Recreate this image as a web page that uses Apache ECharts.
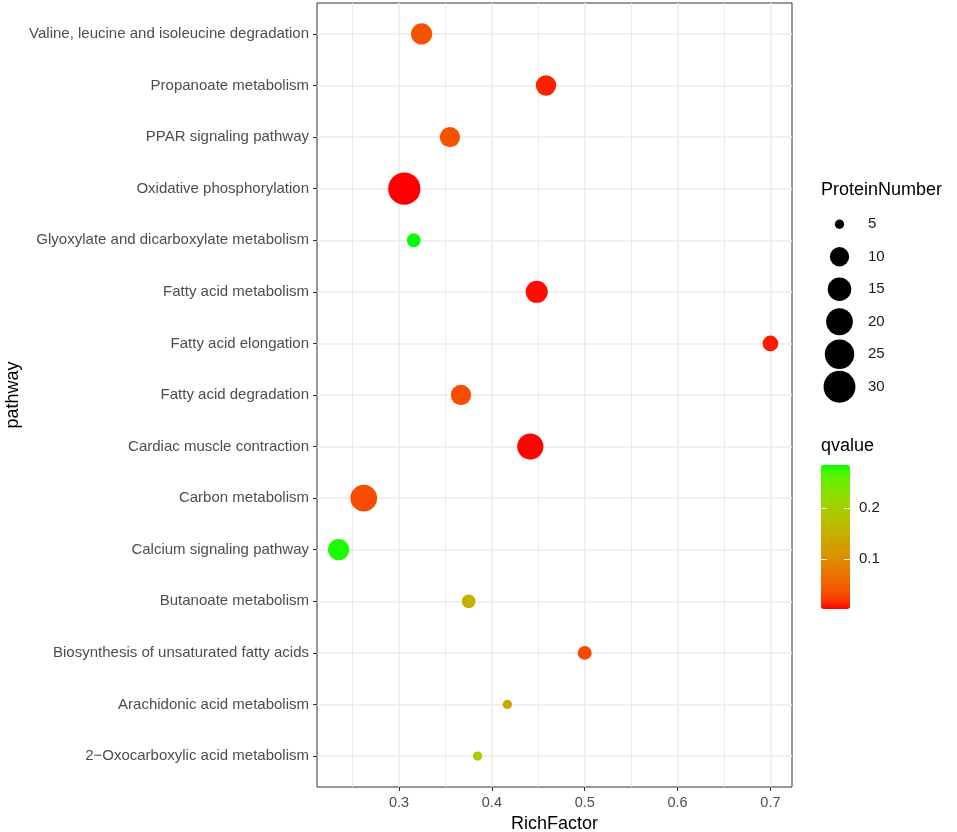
<!DOCTYPE html>
<html>
<head>
<meta charset="utf-8">
<script src="https://cdn.jsdelivr.net/npm/echarts@6/dist/echarts.min.js"></script>
<style>
    html, body { margin: 0; padding: 0; background: #fff; }
    #chart { width: 957px; height: 832px; }
</style>
</head>
<body>
<div id="chart"></div>
<script>
// 通路名称，按从下到上的顺序（和 ggplot 的因子顺序一致）
var pathways = [
    '2\u2212Oxocarboxylic acid metabolism',
    'Arachidonic acid metabolism',
    'Biosynthesis of unsaturated fatty acids',
    'Butanoate metabolism',
    'Calcium signaling pathway',
    'Carbon metabolism',
    'Cardiac muscle contraction',
    'Fatty acid degradation',
    'Fatty acid elongation',
    'Fatty acid metabolism',
    'Glyoxylate and dicarboxylate metabolism',
    'Oxidative phosphorylation',
    'PPAR signaling pathway',
    'Propanoate metabolism',
    'Valine, leucine and isoleucine degradation'
];
var richFactor = [0.3846, 0.4167, 0.5, 0.375, 0.2349, 0.262, 0.4414, 0.3667, 0.70, 0.4483, 0.3158, 0.3057, 0.3548, 0.4583, 0.3243];
var proteinNumber = [5, 5, 6, 6, 12, 20, 19, 11, 7, 13, 6, 31, 11, 11, 12];
var qvalue = [0.20, 0.14, 0.03, 0.15, 0.28, 0.033, 0.004, 0.033, 0.01, 0.006, 0.285, 0.0025, 0.038, 0.012, 0.038];

// 刻度
var xTicks = [0.3, 0.4, 0.5, 0.6, 0.7];
var xMinorTicks = [0.25, 0.35, 0.45, 0.55, 0.65];
var sizeLegend = [5, 10, 15, 20, 25, 30];
var qTicks = [0.1, 0.2];

var FONT = '"Liberation Sans", Arial, sans-serif';

// 范围：连续轴两端各扩 5%，离散轴两端各扩 0.6 个单位
var rfMin = Math.min.apply(null, richFactor);
var rfMax = Math.max.apply(null, richFactor);
var xMin = rfMin - 0.05 * (rfMax - rfMin);
var xMax = rfMax + 0.05 * (rfMax - rfMin);
var qMin = Math.min.apply(null, qvalue);
var qMax = Math.max.apply(null, qvalue);
var nMin = Math.min.apply(null, proteinNumber);
var nMax = Math.max.apply(null, proteinNumber);

// 面积比例的点大小（像素直径）
function sizeOf(n) {
    var t = Math.max(0, (n - nMin) / (nMax - nMin));
    return 9.3 + 23 * Math.sqrt(t);
}

// 红 -> 绿 在 Lab 空间插值，生成色带
function toLin(c) { c = c / 255; return c <= 0.04045 ? c / 12.92 : Math.pow((c + 0.055) / 1.055, 2.4); }
function fromLin(c) { c = c <= 0.0031308 ? 12.92 * c : 1.055 * Math.pow(c, 1 / 2.4) - 0.055; return Math.round(Math.min(1, Math.max(0, c)) * 255); }
function rgbToLab(rgb) {
    var r = toLin(rgb[0]), g = toLin(rgb[1]), b = toLin(rgb[2]);
    var x = (0.4124 * r + 0.3576 * g + 0.1805 * b) / 0.95047;
    var y = (0.2126 * r + 0.7152 * g + 0.0722 * b);
    var z = (0.0193 * r + 0.1192 * g + 0.9505 * b) / 1.08883;
    var f = function (t) { return t > 0.008856 ? Math.cbrt(t) : 7.787 * t + 16 / 116; };
    var fx = f(x), fy = f(y), fz = f(z);
    return [116 * fy - 16, 500 * (fx - fy), 200 * (fy - fz)];
}
function labToHex(lab) {
    var fy = (lab[0] + 16) / 116, fx = fy + lab[1] / 500, fz = fy - lab[2] / 200;
    var inv = function (t) { return t > 0.206893 ? t * t * t : (t - 16 / 116) / 7.787; };
    var x = inv(fx) * 0.95047, y = inv(fy), z = inv(fz) * 1.08883;
    var r = 3.2406 * x - 1.5372 * y - 0.4986 * z;
    var g = -0.9689 * x + 1.8758 * y + 0.0415 * z;
    var b = 0.0557 * x - 0.2040 * y + 1.0570 * z;
    return 'rgb(' + fromLin(r) + ',' + fromLin(g) + ',' + fromLin(b) + ')';
}
var labLow = rgbToLab([255, 0, 0]);
var labHigh = rgbToLab([0, 255, 0]);
var rampColors = [];
for (var k = 0; k <= 20; k++) {
    var t = k / 20;
    rampColors.push(labToHex([
        labLow[0] + (labHigh[0] - labLow[0]) * t,
        labLow[1] + (labHigh[1] - labLow[1]) * t,
        labLow[2] + (labHigh[2] - labLow[2]) * t
    ]));
}

var points = pathways.map(function (p, i) {
    return [richFactor[i], i, proteinNumber[i], qvalue[i], p];
});
var yIdx = pathways.map(function (p, i) { return i; });

var chart = echarts.init(document.getElementById('chart'));
chart.setOption({
    animation: false,
    textStyle: { fontFamily: FONT },
    title: [
        { text: 'ProteinNumber', left: 821, top: 181, padding: 0,
          textStyle: { fontSize: 18, fontWeight: 'normal', color: '#000', fontFamily: FONT } },
        { text: 'qvalue', left: 821, top: 437, padding: 0,
          textStyle: { fontSize: 18, fontWeight: 'normal', color: '#000', fontFamily: FONT } }
    ],
    grid: [
        // 主图
        { left: 317, right: 165, top: 3, bottom: 45, outerBoundsMode: 'none', containLabel: false,
          show: true, borderColor: '#333', borderWidth: 1, backgroundColor: '#fff' },
        // 点大小图例
        { left: 820, width: 39, top: 208, height: 195, outerBoundsMode: 'none', containLabel: false },
        // 色带刻度
        { left: 821, width: 29, top: 465, height: 144, outerBoundsMode: 'none', containLabel: false }
    ],
    xAxis: [
        {
            gridIndex: 0, type: 'value', min: xMin, max: xMax, position: 'bottom',
            name: 'RichFactor', nameLocation: 'middle', nameGap: 27,
            nameTextStyle: { fontSize: 18, color: '#000' },
            axisLine: { show: false, onZero: false },
            axisTick: { show: true, length: 4, customValues: xTicks, lineStyle: { color: '#333' } },
            axisLabel: { customValues: xTicks, margin: 8, fontSize: 14.5, color: '#4d4d4d' },
            splitLine: { show: true, lineStyle: { color: '#ebebeb', width: 1.5 } }
        },
        {
            // 次网格线
            gridIndex: 0, type: 'value', min: xMin, max: xMax, position: 'top',
            axisLine: { show: false, onZero: false },
            axisTick: { show: false, customValues: xMinorTicks },
            axisLabel: { show: false },
            splitLine: { show: true, lineStyle: { color: '#ebebeb', width: 1 } }
        },
        { gridIndex: 1, type: 'value', min: 0, max: 1, show: false },
        { gridIndex: 2, type: 'value', min: 0, max: 1, show: false }
    ],
    yAxis: [
        {
            gridIndex: 0, type: 'value', min: -0.6, max: pathways.length - 0.4, position: 'left',
            name: 'pathway', nameLocation: 'middle', nameGap: 295,
            nameTextStyle: { fontSize: 18, color: '#000' },
            axisLine: { show: false, onZero: false },
            axisTick: { show: true, length: 4, customValues: yIdx, lineStyle: { color: '#333' } },
            axisLabel: {
                customValues: yIdx, margin: 8, fontSize: 15, color: '#4d4d4d',
                formatter: function (v) { return pathways[Math.round(v)]; }
            },
            splitLine: { show: true, lineStyle: { color: '#ebebeb', width: 1.5 } }
        },
        {
            gridIndex: 1, type: 'category', data: sizeLegend.map(String), inverse: true, position: 'right',
            axisLine: { show: false, onZero: false }, axisTick: { show: false },
            axisLabel: { margin: 9, fontSize: 15, color: '#1a1a1a' },
            splitLine: { show: false }
        },
        {
            gridIndex: 2, type: 'value', min: qMin, max: qMax, position: 'right', z: 10,
            axisLine: { show: false, onZero: false },
            axisTick: { show: true, inside: true, length: 6, customValues: qTicks, lineStyle: { color: '#fff', width: 1 } },
            axisLabel: { customValues: qTicks, margin: 9, fontSize: 15, color: '#1a1a1a' },
            splitLine: { show: false }
        },
        {
            gridIndex: 2, type: 'value', min: qMin, max: qMax, position: 'left', z: 10,
            axisLine: { show: false, onZero: false },
            axisTick: { show: true, inside: true, length: 6, customValues: qTicks, lineStyle: { color: '#fff', width: 1 } },
            axisLabel: { show: false },
            splitLine: { show: false }
        }
    ],
    visualMap: {
        type: 'continuous', seriesIndex: 0, dimension: 3,
        min: qMin, max: qMax, orient: 'vertical',
        left: 821, top: 465, itemWidth: 29, itemHeight: 144,
        padding: 0, calculable: false, hoverLink: false, text: null, showLabel: false,
        inRange: { color: rampColors }
    },
    series: [
        {
            type: 'scatter', xAxisIndex: 0, yAxisIndex: 0,
            data: points,
            symbolSize: function (v) { return sizeOf(v[2]); },
            itemStyle: { opacity: 1 },
            emphasis: { disabled: true }
        },
        {
            type: 'scatter', xAxisIndex: 2, yAxisIndex: 1,
            data: sizeLegend.map(function (v, i) { return [0.5, i]; }),
            symbolSize: function (v, p) { return sizeOf(sizeLegend[p.dataIndex]); },
            itemStyle: { color: '#000', opacity: 1 },
            emphasis: { disabled: true }
        }
    ]
});
</script>
</body>
</html>
